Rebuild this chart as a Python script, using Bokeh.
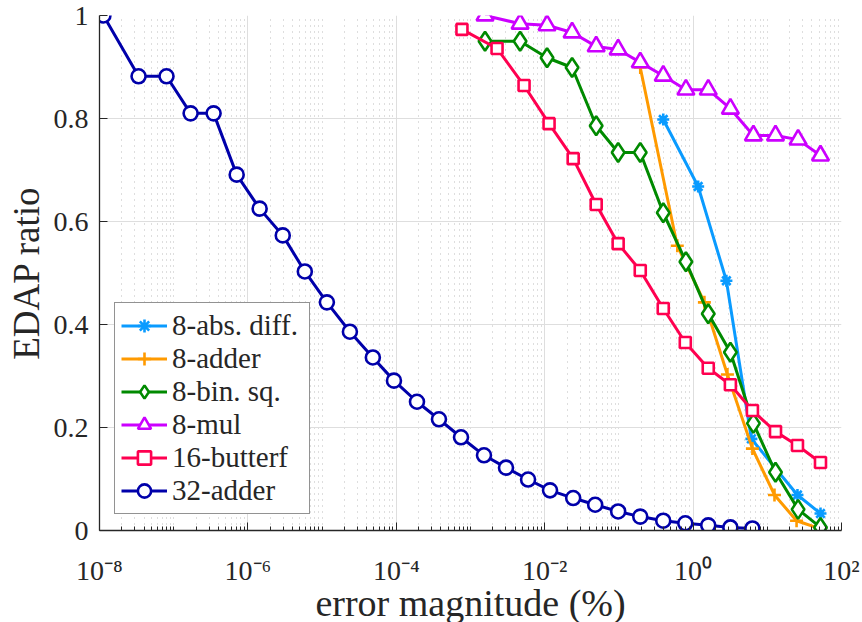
from bokeh.plotting import figure
from bokeh.models import FixedTicker, Legend, LegendItem
from bokeh.embed import file_html
from bokeh.resources import INLINE

# ---------------- data ----------------
names = ["8-abs. diff.", "8-adder", "8-bin. sq.", "8-mul", "16-butterf", "32-adder"]

abs_diff_x = [0.396, 1.17, 2.81, 6.1, 25.5, 52.1]
abs_diff_y = [0.798, 0.668, 0.485, 0.178, 0.069, 0.033]

adder8_x = [0.194, 0.612, 1.42, 2.90, 6.30, 12.5, 24.8, 52.1]
adder8_y = [0.899, 0.553, 0.443, 0.303, 0.159, 0.069, 0.019, 0.003]

binsq_x = [1.57e-3, 4.66e-3, 0.01076, 0.0234, 0.0494, 0.0977, 0.194, 0.396, 0.80, 1.60, 3.18, 6.5, 12.9, 26.0, 52.1]
binsq_y = [0.950, 0.950, 0.918, 0.899, 0.786, 0.734, 0.734, 0.617, 0.522, 0.421, 0.346, 0.208, 0.113, 0.041, 0.006]

mul_x = [1.57e-3, 4.66e-3, 0.01076, 0.0234, 0.0494, 0.0977, 0.194, 0.396, 0.80, 1.60, 3.18, 6.5, 12.9, 26.0, 52.1]
mul_y = [1.0, 0.984, 0.981, 0.967, 0.940, 0.934, 0.909, 0.883, 0.856, 0.856, 0.819, 0.767, 0.767, 0.759, 0.728]

butterf_x = [7.67e-4, 2.28e-3, 5.27e-3, 0.01145, 0.0242, 0.0494, 0.0977, 0.194, 0.396, 0.785, 1.60, 3.18, 6.30, 12.9, 25.5, 52.1]
butterf_y = [0.973, 0.936, 0.864, 0.790, 0.722, 0.633, 0.557, 0.505, 0.431, 0.365, 0.315, 0.283, 0.233, 0.192, 0.165, 0.132]

adder32_x = [1.13e-8, 3.36e-8, 8.0e-8, 1.69e-7, 3.45e-7, 7.06e-7, 1.44e-6, 2.95e-6, 5.85e-6,
             1.16e-5, 2.37e-5, 4.83e-5, 9.3e-5, 1.90e-4, 3.76e-4, 7.45e-4, 1.52e-3, 3.01e-3,
             5.97e-3, 0.0118, 0.0242, 0.0479, 0.0977, 0.194, 0.396, 0.785, 1.60, 3.18, 6.30]
adder32_y = [1.0, 0.882, 0.882, 0.810, 0.810, 0.691, 0.625, 0.573, 0.503,
             0.443, 0.386, 0.336, 0.291, 0.250, 0.216, 0.181, 0.146, 0.122,
             0.099, 0.078, 0.063, 0.050, 0.037, 0.027, 0.019, 0.014, 0.010, 0.006, 0.004]

x_major = [1e-8, 1e-6, 1e-4, 1e-2, 1.0, 100.0]
x_tick_labels = ["10\u207b\u2078", "10\u207b\u2076", "10\u207b\u2074", "10\u207b\u00b2", "10\u2070", "10\u00b2"]
y_ticks = [0.0, 0.2, 0.4, 0.6, 0.8, 1.0]
y_tick_labels = ["0", "0.2", "0.4", "0.6", "0.8", "1"]

x_label = "error magnitude (%)"
y_label = "EDAP ratio"

# ---------------- styling ----------------
FONT = "'Liberation Serif', serif"
AXC = "#262626"

x_minor = [m * 10.0 ** k for k in range(-8, 2) for m in range(1, 10)
           if not (m == 1 and k % 2 == 0)]

p = figure(frame_width=742, frame_height=515, x_axis_type="log",
           x_range=(1e-8, 1e2), y_range=(0, 1),
           output_backend="svg", toolbar_location=None,
           min_border_left=99, min_border_right=21,
           min_border_top=15, min_border_bottom=92)
p.outline_line_color = None
p.background_fill_color = "white"

xt = FixedTicker(ticks=x_major, minor_ticks=x_minor)
yt = FixedTicker(ticks=y_ticks, minor_ticks=[])
p.xaxis.ticker = xt
p.yaxis.ticker = yt
p.xgrid.ticker = xt
p.ygrid.ticker = yt
p.xaxis.major_label_overrides = dict(zip(x_major, x_tick_labels))
p.yaxis.major_label_overrides = dict(zip(y_ticks, y_tick_labels))

p.xgrid.grid_line_color = "#DEDEDE"
p.ygrid.grid_line_color = "#DEDEDE"
p.xgrid.grid_line_width = 1
p.ygrid.grid_line_width = 1
p.xgrid.minor_grid_line_color = "#BDBDBD"
p.xgrid.minor_grid_line_dash = "1 5"
p.xgrid.minor_grid_line_width = 1

for ax in (p.xaxis[0], p.yaxis[0]):
    ax.axis_line_color = AXC
    ax.axis_line_width = 1.3
    ax.major_tick_line_color = AXC
    ax.minor_tick_line_color = AXC
    ax.major_tick_in = 8
    ax.major_tick_out = 0
    ax.minor_tick_in = 4
    ax.minor_tick_out = 0
    ax.major_label_text_font = FONT
    ax.major_label_text_font_size = "28px"
    ax.major_label_text_font_style = "normal"
    ax.major_label_text_color = AXC
    ax.axis_label_text_font = FONT
    ax.axis_label_text_font_style = "normal"
    ax.axis_label_text_color = AXC

p.xaxis.axis_label_text_font_size = "38px"
p.yaxis.axis_label_text_font_size = "37px"
p.yaxis.minor_tick_line_color = None
p.xaxis.axis_label = x_label
p.yaxis.axis_label = y_label
p.xaxis.major_label_standoff = 24
p.xaxis.axis_label_standoff = -7
p.yaxis.major_label_standoff = 11
p.yaxis.axis_label_standoff = 4

series = [
    (names[0], abs_diff_x, abs_diff_y, "#0A9BFF", "asterisk", 12),
    (names[1], adder8_x, adder8_y, "#FF9A00", "cross", 13),
    (names[2], binsq_x, binsq_y, "#008A00", "diamond", 19),
    (names[3], mul_x, mul_y, "#CC00FF", "triangle", 17),
    (names[4], butterf_x, butterf_y, "#FF0050", "square", 11),
    (names[5], adder32_x, adder32_y, "#0000AA", "circle", 14),
]

items = []
for name, xs, ys, col, mk, sz in series:
    rl = p.line(xs, ys, line_color=col, line_width=3)
    rs = p.scatter(xs, ys, marker=mk, size=sz, line_color=col, line_width=2.6,
                   fill_color="white")
    items.append(LegendItem(label=name, renderers=[rl, rs]))

legend = Legend(items=items, location=(15, 16))
legend.label_text_font = FONT
legend.label_text_font_size = "29px"
legend.label_text_font_style = "normal"
legend.label_text_color = AXC
legend.glyph_width = 46
legend.glyph_height = 33
legend.label_height = 33
legend.label_width = 131
legend.label_standoff = 5
legend.spacing = 0
legend.padding = 6
legend.margin = 0
legend.border_line_color = AXC
legend.border_line_width = 1.5
legend.background_fill_color = "white"
legend.background_fill_alpha = 1.0
p.add_layout(legend)

open("out.html", "w").write(file_html(p, INLINE))
